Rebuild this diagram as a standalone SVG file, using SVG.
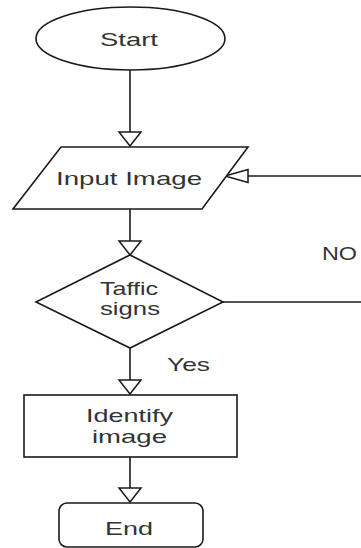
<svg xmlns="http://www.w3.org/2000/svg" width="361" height="548" viewBox="0 0 361 548">
<style>
.s{fill:#fff;stroke:#1a1a1a;stroke-width:1.6}
.l{fill:none;stroke:#1a1a1a;stroke-width:1.6}
.a{fill:#fff;stroke:#1a1a1a;stroke-width:1.5;stroke-linejoin:miter}
text{font-family:"Liberation Sans",Arial,sans-serif;font-size:18.5px;fill:#333}
</style>
<rect width="361" height="548" fill="#fff"/>
<g id="connectors">
<line class="l" x1="130" y1="70" x2="130" y2="132"/>
<polygon class="a" points="119,132 141,132 130,146"/>
<line class="l" x1="130" y1="209" x2="130" y2="241"/>
<polygon class="a" points="119,241 141,241 130,255"/>
<line class="l" x1="130" y1="348" x2="130" y2="380"/>
<polygon class="a" points="119,380 141,380 130,394"/>
<line class="l" x1="130" y1="457" x2="130" y2="488"/>
<polygon class="a" points="119,488 141,488 130,502"/>
<line class="l" x1="223" y1="302" x2="361" y2="302"/>
<line class="l" x1="248" y1="176" x2="361" y2="176"/>
<polygon class="a" points="248,169.5 248,182.5 225,176"/>
<text x="322" y="260" textLength="35" lengthAdjust="spacingAndGlyphs">NO</text>
<text x="167" y="371" textLength="43" lengthAdjust="spacingAndGlyphs">Yes</text>
</g>
<g id="start">
<ellipse class="s" cx="130.5" cy="38.5" rx="94.5" ry="31.5"/>
<text x="100" y="46" textLength="58" lengthAdjust="spacingAndGlyphs">Start</text>
</g>
<g id="input">
<polygon class="s" points="61,147 248,147 202,209 13,209"/>
<text x="56" y="185" textLength="146" lengthAdjust="spacingAndGlyphs">Input Image</text>
</g>
<g id="decision">
<polygon class="s" points="130,255 223,302 130,348 36,302"/>
<text x="100" y="295" textLength="58" lengthAdjust="spacingAndGlyphs">Taffic</text>
<text x="100" y="315" textLength="60" lengthAdjust="spacingAndGlyphs">signs</text>
</g>
<g id="identify">
<rect class="s" x="24" y="395" width="213" height="62"/>
<text x="86" y="422" textLength="87" lengthAdjust="spacingAndGlyphs">Identify</text>
<text x="92" y="443" textLength="75" lengthAdjust="spacingAndGlyphs">image</text>
</g>
<g id="end">
<rect class="s" x="59" y="503" width="144" height="44" rx="8" ry="8"/>
<text x="105" y="535" textLength="48" lengthAdjust="spacingAndGlyphs">End</text>
</g>
</svg>
